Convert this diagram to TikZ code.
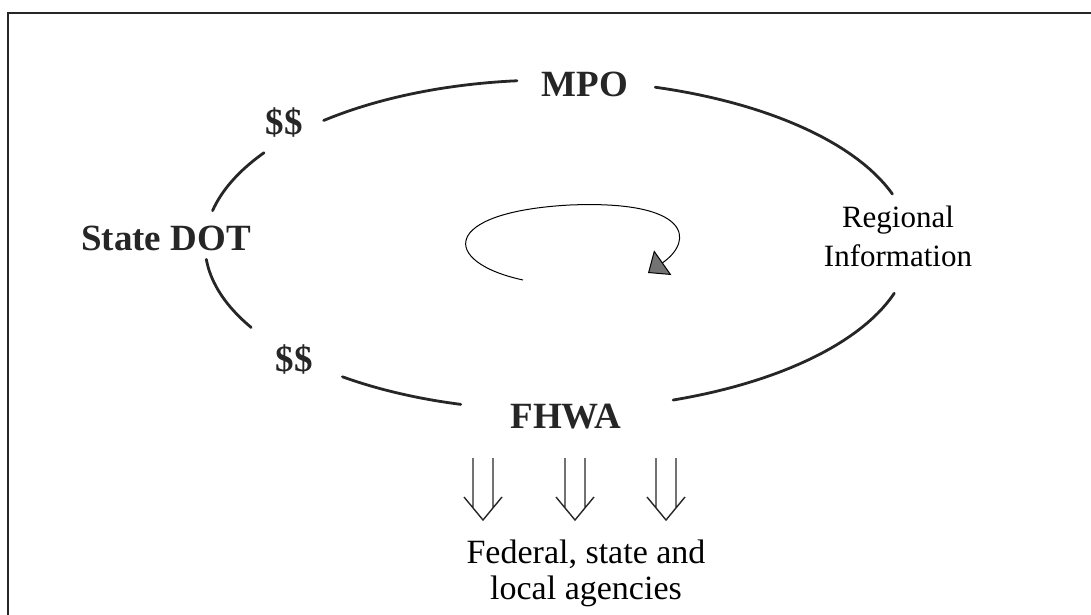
\documentclass[tikz,border=0pt]{standalone}
\usepackage{fontspec}
\setmainfont{Liberation Serif}
\usepackage{tikz}
\usetikzlibrary{arrows.meta, positioning}

\begin{document}
\begin{tikzpicture}[
    x=1pt, y=-1pt,
    lbl/.style={font=\fontsize{37}{40}\selectfont\bfseries, text=black!85, inner sep=0pt, anchor=base},
    txt/.style={align=center, inner sep=0pt},
    ring/.style={line width=2.8pt, black!85, line cap=round},
    dbl/.style={line width=1.4pt, black!85},
]
    \useasboundingbox (0,0) rectangle (1091,615);
    % frame (only top and left edges show)
    \draw[line width=1.6pt, black!85] (1091,13) -- (8,13) -- (8,615);

    \node[lbl] (mpo) at (585,96) {MPO};
    \node[lbl] (fhwa) at (566,428) {FHWA};
    \node[lbl] (dot) at (166,250) {State DOT};
    \node[lbl] (money1) at (284,134) {\$\$};
    \node[lbl] (money2) at (294,371) {\$\$};
    \node[txt, font=\fontsize{31}{39}\selectfont] (info) at (898,236) {Regional\\Information};
    \node[txt, font=\fontsize{34}{36}\selectfont] (agencies) at (586,573) {Federal, state and\\local agencies};

    % outer cycle, left and right halves
    \draw[ring] plot[domain=229:264.5, samples=30] ({550+345*cos(\x)},{245+165*sin(\x)});
    \draw[ring] plot[domain=192:214, samples=20] ({550+345*cos(\x)},{245+165*sin(\x)});
    \draw[ring] plot[domain=150:175, samples=20] ({550+345*cos(\x)},{245+165*sin(\x)});
    \draw[ring] plot[domain=105:127, samples=20] ({550+345*cos(\x)},{245+165*sin(\x)});
    \draw[ring] plot[domain=17:70, samples=30] ({550+360*cos(\x)},{245+165*sin(\x)});
    \draw[ring] plot[domain=-73:-18, samples=30] ({550+360*cos(\x)},{245+165*sin(\x)});

    % inner loop
    \draw[line width=1pt, -{Triangle[length=18pt,width=30pt,fill=black!55]}]
        (523,280) .. controls (440,262) and (440,212) .. (570,205)
        .. controls (690,200) and (695,240) .. (648,273);

    % hollow down arrows
    \foreach \x in {483,575,666}
        \draw[dbl] (\x-10,458) -- (\x-10,508) (\x+10,458) -- (\x+10,508)
            (\x-19,497) -- (\x,520) -- (\x+19,497);
\end{tikzpicture}
\end{document}
